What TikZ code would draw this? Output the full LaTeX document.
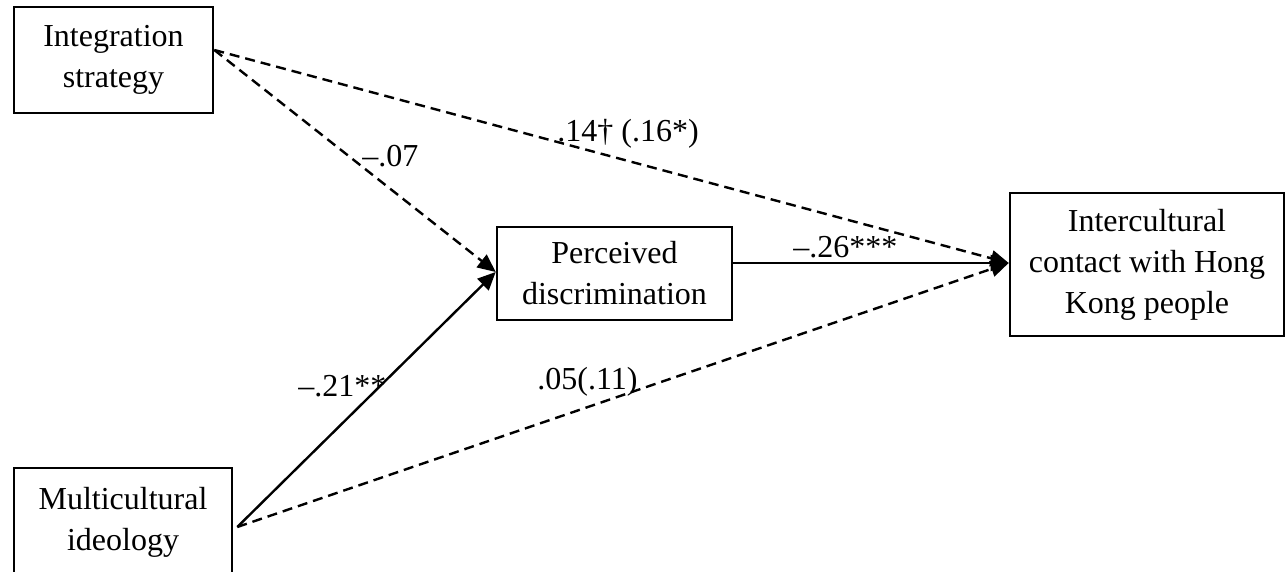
\documentclass[tikz,border=0pt]{standalone}
\usepackage{fontspec}
\setmainfont{Liberation Serif}
\usetikzlibrary{arrows.meta}
\begin{document}
\begin{tikzpicture}[x=0.5pt,y=-0.5pt,
  box/.style={draw,line width=1.3pt,align=center,inner sep=0pt,font=\fontsize{16}{20.5}\selectfont},
  lbl/.style={anchor=base west,inner sep=0pt,font=\fontsize{16}{20}\selectfont},
  arr/.style={line width=1.2pt,-{Triangle[length=9pt,width=8pt]}},
  dsh/.style={arr,dash pattern=on 5pt off 3pt}]
\useasboundingbox (0,0) rectangle (1286,572);
\node[box,minimum width=99.5pt,minimum height=53pt] (integ) at (113.5,60) {Integration\\strategy};
\node[box,minimum width=117.5pt,minimum height=46.5pt] (perc) at (614.5,273.5) {Perceived\\discrimination};
\node[box,minimum width=137pt,minimum height=71.5pt] (inter) at (1147,264.5) {Intercultural\\contact with Hong\\Kong people};
\node[box,minimum width=109pt,minimum height=54pt] (multi) at (123,522) {Multicultural\\ideology};
\draw[dsh] ([yshift=5pt]integ.east) -- ([yshift=0.75pt]inter.west);
\draw[dsh] ([yshift=5pt]integ.east) -- ([yshift=0.75pt]perc.west);
\draw[arr] ([xshift=2pt,yshift=-2.5pt]multi.east) -- ([yshift=0.75pt]perc.west);
\draw[dsh] ([xshift=2pt,yshift=-2.5pt]multi.east) -- ([yshift=0.75pt]inter.west);
\draw[arr] (perc.east |- inter.west) ++(0,-1.5) coordinate (pe) (pe) -- ([yshift=0.75pt]inter.west);
\node[lbl] (l07) at (362,167) {–.07};
\node[lbl] (l14) at (557,142) {.14† (.16*)};
\node[lbl] (l21) at (298,397) {–.21**};
\node[lbl] (l05) at (537,390) {.05(.11)};
\node[lbl] (l26) at (793,258) {–.26***};
\end{tikzpicture}
\end{document}
